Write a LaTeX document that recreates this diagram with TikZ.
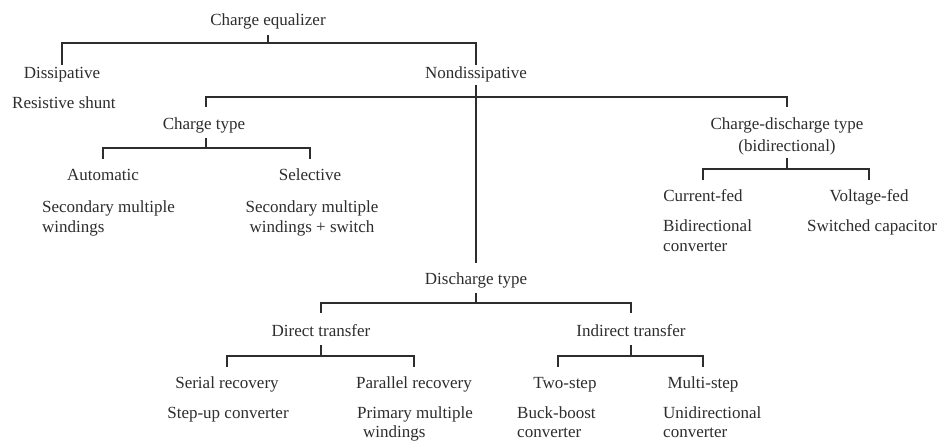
\documentclass[tikz,border=0pt]{standalone}
\usepackage{fontspec}
\setmainfont{Liberation Serif}
\definecolor{ink}{RGB}{45,45,45}
\begin{document}
\begin{tikzpicture}[x=1pt,y=-1pt,
  lbl/.style={inner sep=0pt, font=\fontsize{17}{20}\selectfont, text=ink},
  conn/.style={draw=ink, line width=1.4pt}]
\useasboundingbox[fill=white] (0,0) rectangle (944,442);
% level 0/1
\node[lbl,anchor=base] (ce) at (268,25) {Charge equalizer};
\node[lbl,anchor=base] (dis) at (62,78) {Dissipative};
\node[lbl,anchor=base] (nd) at (476,78) {Nondissipative};
\node[lbl,anchor=base west] (rs) at (12,108) {Resistive shunt};
% charge type
\node[lbl,anchor=base] (ct) at (204,129) {Charge type};
\node[lbl,anchor=base] (aut) at (103,180) {Automatic};
\node[lbl,anchor=base] (sel) at (310,180) {Selective};
\node[lbl,anchor=base west] (sm1) at (42,212) {Secondary multiple};
\node[lbl,anchor=base west] (sm2) at (42,232) {windings};
\node[lbl,anchor=base] (ss1) at (312,212) {Secondary multiple};
\node[lbl,anchor=base] (ss2) at (312,232) {windings + switch};
% charge-discharge type
\node[lbl,anchor=base] (cd) at (787,129) {Charge-discharge type};
\node[lbl,anchor=base] (cd2) at (787,151) {(bidirectional)};
\node[lbl,anchor=base] (cur) at (703,201) {Current-fed};
\node[lbl,anchor=base] (vol) at (869,201) {Voltage-fed};
\node[lbl,anchor=base west] (bc1) at (663,231) {Bidirectional};
\node[lbl,anchor=base west] (bc2) at (663,251) {converter};
\node[lbl,anchor=base west] (sc) at (807,231) {Switched capacitor};
% discharge type
\node[lbl,anchor=base] (dt) at (476,284) {Discharge type};
\node[lbl,anchor=base] (dir) at (321,336) {Direct transfer};
\node[lbl,anchor=base] (ind) at (631,336) {Indirect transfer};
\node[lbl,anchor=base] (ser) at (227,388) {Serial recovery};
\node[lbl,anchor=base] (par) at (414,388) {Parallel recovery};
\node[lbl,anchor=base] (two) at (565,388) {Two-step};
\node[lbl,anchor=base] (mul) at (703,388) {Multi-step};
\node[lbl,anchor=base] (su) at (228,418) {Step-up converter};
\node[lbl,anchor=base west] (pm1) at (357,418) {Primary multiple};
\node[lbl,anchor=base west] (pm2) at (363,437) {windings};
\node[lbl,anchor=base west] (bb1) at (517,418) {Buck-boost};
\node[lbl,anchor=base west] (bb2) at (517,437) {converter};
\node[lbl,anchor=base west] (ud1) at (663,418) {Unidirectional};
\node[lbl,anchor=base west] (ud2) at (663,437) {converter};
% connectors
\draw[conn] (ce.south |- 0,35) -- (ce.south |- 0,43) -| (dis.north |- 0,65);
\draw[conn] (ce.south |- 0,43) -| (nd.north |- 0,65);
\draw[conn] (nd.south |- 0,85) -- (dt.north |- 0,263);
\draw[conn] (nd.south |- 0,97) -| ([xshift=2]ct.north |- 0,107);
\draw[conn] (nd.south |- 0,97) -| (cd.north |- 0,107);
\draw[conn] ([xshift=2]ct.south |- 0,138) -- ([xshift=2]ct.south |- 0,148) -| (aut.north |- 0,159);
\draw[conn] ([xshift=2]ct.south |- 0,148) -| (sel.north |- 0,159);
\draw[conn] (cd2.south |- 0,158) -- (cd2.south |- 0,169) -| (cur.north |- 0,180);
\draw[conn] (cd2.south |- 0,169) -| (vol.north |- 0,180);
\draw[conn] (dt.south |- 0,293) -- (dt.south |- 0,303) -| (dir.north |- 0,313);
\draw[conn] (dt.south |- 0,303) -| (ind.north |- 0,313);
\draw[conn] (dir.south |- 0,345) -- (dir.south |- 0,356) -| (ser.north |- 0,367);
\draw[conn] (dir.south |- 0,356) -| (par.north |- 0,367);
\draw[conn] (ind.south |- 0,345) -- (ind.south |- 0,356) -| ([xshift=-7]two.north |- 0,367);
\draw[conn] (ind.south |- 0,356) -| (mul.north |- 0,367);
\end{tikzpicture}
\end{document}
